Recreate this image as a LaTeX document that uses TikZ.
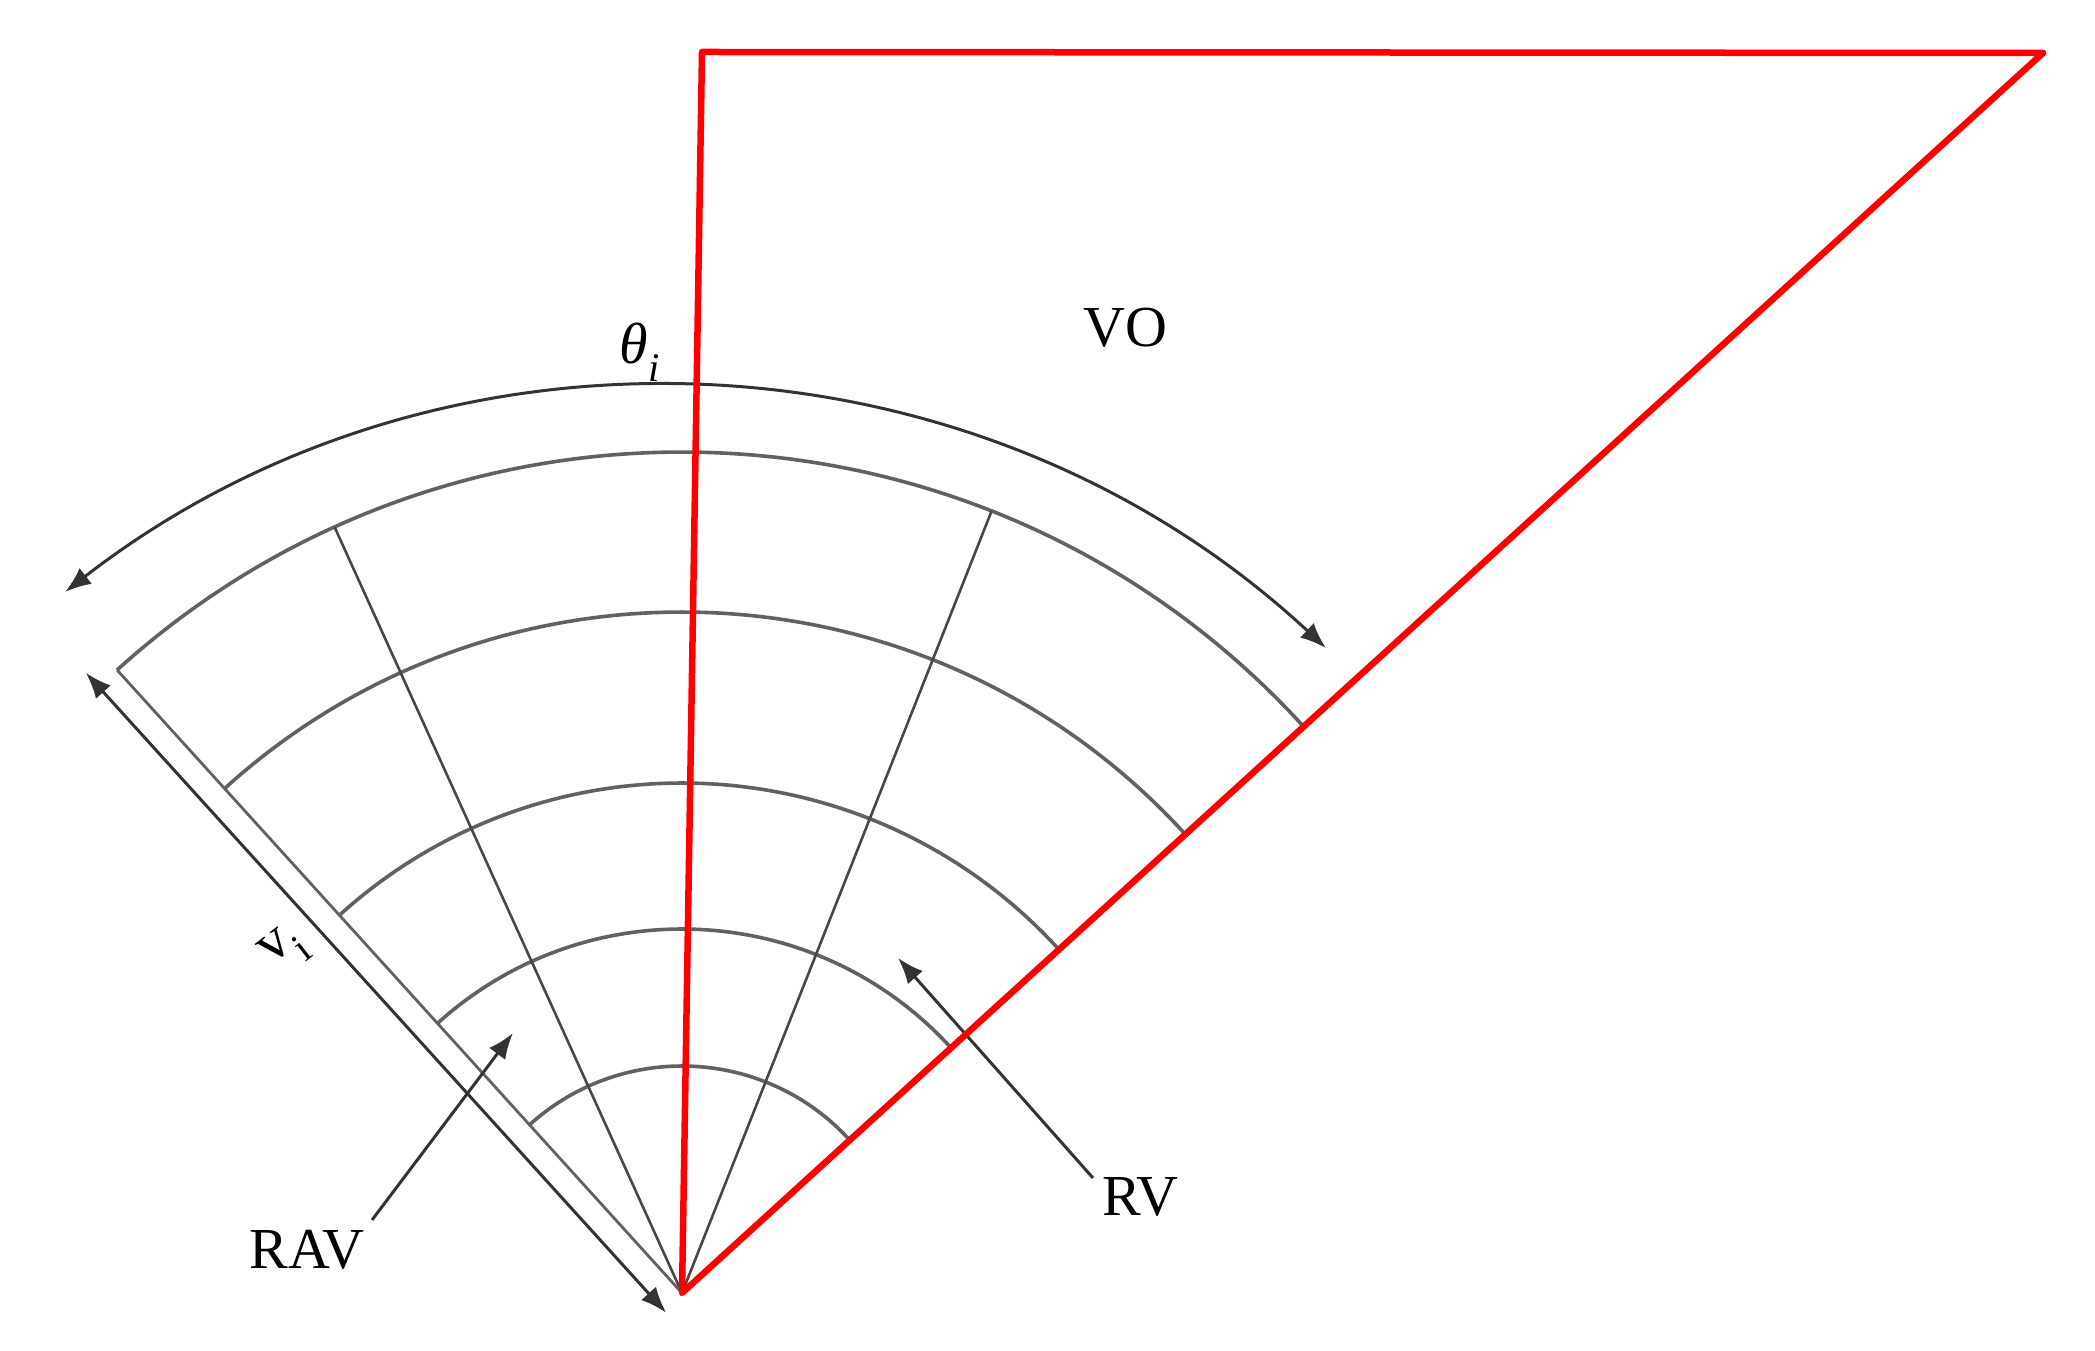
\documentclass[tikz,border=0pt]{standalone}
\usepackage{fontspec}
\setmainfont{Liberation Serif}
\usetikzlibrary{arrows.meta,calc}
\begin{document}
\begin{tikzpicture}[x=1pt,y=1pt,
  redline/.style={draw=red, line width=6.5pt, line join=round},
  gridarc/.style={draw=black!62, line width=3.6pt},
  spoke/.style={draw=black!72, line width=2.6pt},
  dimarrow/.style={draw=black!80, line width=3pt, {Latex[length=26pt,width=20pt]}-{Latex[length=26pt,width=20pt]}},
  callout/.style={draw=black!80, line width=3pt, -{Latex[length=26pt,width=20pt]}},
  lbl/.style={font=\fontsize{58}{58}\selectfont, inner sep=0pt}]
\useasboundingbox (0,0) rectangle (2095,1350);
% key points
\coordinate (A) at (682,57);
\coordinate (TL) at (702,1298);
\coordinate (TR) at (2043,1297);
\coordinate (C) at (662.5,-12.2);
% concentric arcs of the velocity grid
\foreach \r in {227,364,510,681,841}{
  \draw[gridarc] ($(A)+(42.33:\r pt)$) arc[start angle=42.33, end angle=132.2, radius=\r pt];
}
% spokes and sector edge
\coordinate (S1) at ($(A)+(68.4:841pt)$);
\coordinate (S2) at ($(A)+(114.4:841pt)$);
\coordinate (SE) at ($(A)+(132.2:841pt)$);
\draw[spoke] (A) -- (S1);
\draw[spoke] (A) -- (S2);
\draw[gridarc, line width=2.8pt] (A) -- (SE);
% v_i dimension arrow
\coordinate (V0) at ($(A)+(222.2:25pt)+(132.2:-4pt)$);
\coordinate (V1) at ($(A)+(222.2:25pt)+(132.2:860pt)$);
\draw[dimarrow] (V0) -- (V1);
% theta_i arrow
\coordinate (T1) at ($(C)+(127.8:974.8pt)$);
\draw[dimarrow] (T1) arc[start angle=127.8, end angle=47.1, radius=974.8pt];
% callouts
\node[lbl] (rav) at (307,100) {RAV};
\node[lbl] (rv) at (1140,153) {RV};
\coordinate (ravtip) at (513,317);
\coordinate (rvtip) at (898,392);
\draw[callout] (372,130) -- (ravtip);
\draw[callout] (1093,172) -- (rvtip);
% velocity obstacle
\draw[redline] (A) -- (TL) -- (TR) -- cycle;
% labels
\node[lbl] (vo) at (1125,1022) {VO};
\node[lbl] (theta) at (640,998) {\itshape θ\textsubscript{i}};
\node[lbl, rotate=38] (vi) at (285,400) {v\textsubscript{i}};
\end{tikzpicture}
\end{document}
